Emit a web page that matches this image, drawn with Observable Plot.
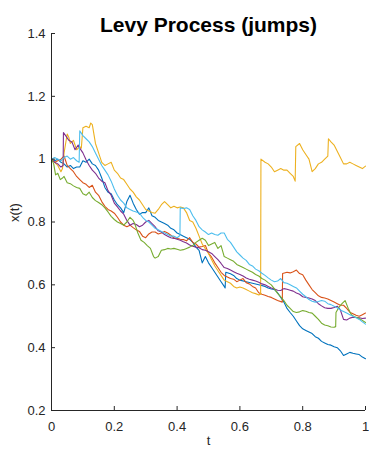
<!DOCTYPE html>
<html><head><meta charset="utf-8">
<script src="https://cdn.jsdelivr.net/npm/d3@7"></script>
<script src="https://cdn.jsdelivr.net/npm/@observablehq/plot@0.6"></script>
<style>body{margin:0;background:#fff} svg{display:block}</style>
</head><body><div id="chart"></div>
<script>
const titleText = "Levy Process (jumps)";
const xLabel = "t";
const yLabel = "x(t)";
const xTicks = [0, 0.2, 0.4, 0.6, 0.8, 1];
const xTickLabels = ["0", "0.2", "0.4", "0.6", "0.8", "1"];
const yTicks = [0.2, 0.4, 0.6, 0.8, 1, 1.2, 1.4];
const yTickLabels = ["0.2", "0.4", "0.6", "0.8", "1", "1.2", "1.4"];
const seriesColors = ["#0072BD", "#D95319", "#EDB120", "#7E2F8E", "#77AC30", "#4DBEEE"];

const blue = [[0,1.0],[0.01,0.995],[0.02,1.0],[0.03,0.99],[0.04,0.985],[0.05,0.975],[0.06,0.98],[0.07,0.97],[0.08,0.975],[0.09,0.975],[0.1,0.995],[0.11,0.99],[0.12,1.0],[0.13,0.985],[0.14,0.98],[0.15,0.965],[0.16,0.94],[0.17,0.91],[0.18,0.895],[0.19,0.89],[0.2,0.87],[0.21,0.855],[0.22,0.845],[0.23,0.83],[0.24,0.865],[0.25,0.885],[0.26,0.86],[0.27,0.84],[0.28,0.825],[0.29,0.83],[0.3,0.83],[0.31,0.845],[0.32,0.82],[0.33,0.815],[0.34,0.805],[0.35,0.8],[0.36,0.795],[0.37,0.79],[0.38,0.78],[0.39,0.775],[0.4,0.765],[0.41,0.76],[0.42,0.755],[0.43,0.75],[0.44,0.745],[0.45,0.735],[0.46,0.72],[0.47,0.71],[0.48,0.67],[0.49,0.69],[0.5,0.67],[0.51,0.655],[0.52,0.64],[0.53,0.625],[0.54,0.61],[0.55,0.595],[0.553,0.59],[0.555,0.64],[0.57,0.635],[0.58,0.63],[0.59,0.62],[0.6,0.615],[0.62,0.61],[0.64,0.605],[0.66,0.6],[0.68,0.595],[0.69,0.59],[0.7,0.587],[0.71,0.585],[0.72,0.575],[0.73,0.56],[0.74,0.545],[0.75,0.525],[0.76,0.512],[0.77,0.5],[0.78,0.485],[0.79,0.47],[0.8,0.46],[0.81,0.455],[0.82,0.45],[0.83,0.445],[0.84,0.435],[0.85,0.43],[0.86,0.42],[0.87,0.415],[0.88,0.41],[0.89,0.408],[0.9,0.403],[0.91,0.4],[0.92,0.39],[0.93,0.375],[0.94,0.38],[0.95,0.385],[0.96,0.382],[0.97,0.38],[0.98,0.378],[0.99,0.37],[1.0,0.365]];

const orange = [[0,1.0],[0.01,0.99],[0.02,0.995],[0.03,1.0],[0.04,1.01],[0.045,0.995],[0.05,0.98],[0.06,0.97],[0.07,0.96],[0.08,0.945],[0.09,0.935],[0.1,0.925],[0.11,0.92],[0.12,0.91],[0.13,0.917],[0.14,0.895],[0.15,0.885],[0.16,0.865],[0.17,0.85],[0.18,0.84],[0.19,0.835],[0.2,0.828],[0.21,0.815],[0.22,0.8],[0.23,0.79],[0.24,0.785],[0.25,0.79],[0.26,0.782],[0.27,0.775],[0.28,0.77],[0.29,0.755],[0.3,0.75],[0.31,0.762],[0.32,0.768],[0.33,0.768],[0.34,0.762],[0.35,0.765],[0.36,0.77],[0.37,0.765],[0.38,0.758],[0.39,0.75],[0.4,0.748],[0.41,0.745],[0.42,0.744],[0.43,0.74],[0.44,0.75],[0.45,0.735],[0.46,0.73],[0.47,0.72],[0.48,0.722],[0.49,0.725],[0.5,0.7],[0.51,0.688],[0.52,0.67],[0.53,0.655],[0.54,0.64],[0.55,0.63],[0.56,0.625],[0.57,0.62],[0.58,0.618],[0.59,0.61],[0.6,0.615],[0.61,0.62],[0.62,0.607],[0.63,0.603],[0.64,0.595],[0.65,0.59],[0.66,0.575],[0.67,0.57],[0.68,0.567],[0.69,0.563],[0.7,0.56],[0.71,0.555],[0.72,0.55],[0.735,0.545],[0.736,0.636],[0.75,0.64],[0.76,0.638],[0.77,0.642],[0.78,0.647],[0.79,0.636],[0.8,0.632],[0.81,0.615],[0.82,0.6],[0.83,0.585],[0.84,0.575],[0.85,0.565],[0.86,0.56],[0.87,0.558],[0.88,0.555],[0.89,0.55],[0.9,0.545],[0.91,0.54],[0.92,0.535],[0.93,0.535],[0.94,0.525],[0.95,0.513],[0.96,0.508],[0.97,0.503],[0.98,0.5],[0.99,0.505],[1.0,0.51]];

const yellow = [[0,1.0],[0.01,0.99],[0.02,0.98],[0.03,0.96],[0.035,0.97],[0.04,1.02],[0.05,1.08],[0.055,1.07],[0.06,1.05],[0.07,1.06],[0.08,1.03],[0.09,1.04],[0.095,1.035],[0.1,1.1],[0.11,1.105],[0.12,1.1],[0.125,1.115],[0.13,1.11],[0.14,1.05],[0.15,1.02],[0.16,0.99],[0.17,0.98],[0.18,0.985],[0.19,0.99],[0.2,0.965],[0.21,0.955],[0.22,0.94],[0.23,0.935],[0.24,0.92],[0.25,0.905],[0.26,0.895],[0.27,0.88],[0.28,0.87],[0.29,0.855],[0.3,0.84],[0.31,0.835],[0.32,0.83],[0.33,0.828],[0.34,0.84],[0.35,0.855],[0.36,0.865],[0.37,0.855],[0.38,0.845],[0.39,0.85],[0.4,0.845],[0.41,0.848],[0.42,0.845],[0.43,0.83],[0.44,0.805],[0.45,0.8],[0.46,0.78],[0.47,0.755],[0.48,0.73],[0.49,0.715],[0.5,0.7],[0.51,0.68],[0.52,0.66],[0.53,0.645],[0.54,0.63],[0.55,0.615],[0.56,0.61],[0.57,0.605],[0.58,0.595],[0.59,0.59],[0.6,0.593],[0.61,0.59],[0.62,0.585],[0.63,0.58],[0.64,0.575],[0.65,0.572],[0.66,0.568],[0.666,0.57],[0.667,1.0],[0.68,0.99],[0.69,0.985],[0.7,0.975],[0.71,0.96],[0.72,0.965],[0.73,0.97],[0.74,0.965],[0.75,0.965],[0.76,0.955],[0.77,0.945],[0.776,0.93],[0.778,1.04],[0.79,1.05],[0.8,1.03],[0.81,1.015],[0.82,1.0],[0.83,0.96],[0.84,0.97],[0.85,0.985],[0.86,0.99],[0.87,1.0],[0.88,1.01],[0.882,1.065],[0.89,1.055],[0.9,1.045],[0.91,1.025],[0.92,1.005],[0.93,0.985],[0.94,0.985],[0.95,0.99],[0.96,0.985],[0.97,0.98],[0.98,0.975],[0.99,0.97],[1.0,0.978]];

const purple = [[0,1.0],[0.01,0.99],[0.02,0.985],[0.03,0.975],[0.037,0.98],[0.038,1.085],[0.045,1.075],[0.055,1.06],[0.065,1.055],[0.075,1.03],[0.085,1.045],[0.09,1.035],[0.1,1.02],[0.11,0.998],[0.12,0.98],[0.13,0.965],[0.14,0.955],[0.15,0.94],[0.16,0.93],[0.17,0.925],[0.18,0.9],[0.19,0.885],[0.2,0.86],[0.21,0.848],[0.22,0.835],[0.23,0.825],[0.24,0.805],[0.25,0.79],[0.26,0.795],[0.27,0.792],[0.28,0.785],[0.29,0.79],[0.3,0.8],[0.31,0.805],[0.32,0.795],[0.33,0.785],[0.34,0.772],[0.35,0.768],[0.36,0.76],[0.37,0.755],[0.38,0.75],[0.39,0.748],[0.4,0.745],[0.41,0.742],[0.42,0.737],[0.43,0.733],[0.44,0.727],[0.45,0.723],[0.46,0.72],[0.47,0.718],[0.48,0.712],[0.49,0.71],[0.5,0.705],[0.51,0.7],[0.52,0.69],[0.53,0.68],[0.54,0.668],[0.55,0.655],[0.56,0.652],[0.57,0.647],[0.58,0.642],[0.59,0.637],[0.6,0.633],[0.61,0.628],[0.62,0.622],[0.63,0.618],[0.64,0.615],[0.65,0.612],[0.66,0.608],[0.67,0.603],[0.68,0.6],[0.69,0.595],[0.7,0.59],[0.71,0.587],[0.72,0.583],[0.73,0.582],[0.74,0.588],[0.75,0.586],[0.76,0.583],[0.77,0.58],[0.78,0.574],[0.79,0.57],[0.8,0.562],[0.81,0.56],[0.82,0.558],[0.83,0.555],[0.84,0.55],[0.85,0.54],[0.86,0.533],[0.87,0.527],[0.88,0.525],[0.89,0.525],[0.9,0.528],[0.91,0.532],[0.92,0.52],[0.93,0.49],[0.94,0.488],[0.95,0.494],[0.96,0.497],[0.97,0.496],[0.98,0.495],[0.99,0.493],[1.0,0.494]];

const green = [[0,1.0],[0.007,0.985],[0.013,0.95],[0.02,0.955],[0.028,0.935],[0.035,0.94],[0.04,0.945],[0.05,0.925],[0.06,0.922],[0.07,0.915],[0.08,0.91],[0.09,0.907],[0.1,0.89],[0.11,0.885],[0.12,0.895],[0.13,0.878],[0.14,0.868],[0.15,0.862],[0.16,0.855],[0.17,0.845],[0.18,0.832],[0.19,0.818],[0.2,0.808],[0.21,0.8],[0.22,0.795],[0.23,0.79],[0.24,0.8],[0.25,0.815],[0.26,0.805],[0.265,0.795],[0.275,0.765],[0.285,0.742],[0.295,0.735],[0.305,0.725],[0.315,0.716],[0.325,0.69],[0.33,0.685],[0.34,0.69],[0.35,0.71],[0.36,0.712],[0.37,0.716],[0.38,0.714],[0.39,0.716],[0.4,0.713],[0.41,0.71],[0.42,0.712],[0.43,0.716],[0.44,0.72],[0.45,0.725],[0.46,0.735],[0.47,0.742],[0.48,0.748],[0.49,0.742],[0.5,0.725],[0.51,0.73],[0.52,0.735],[0.53,0.716],[0.54,0.725],[0.55,0.69],[0.56,0.685],[0.57,0.68],[0.58,0.675],[0.59,0.665],[0.6,0.66],[0.61,0.655],[0.62,0.65],[0.63,0.645],[0.64,0.64],[0.65,0.633],[0.66,0.628],[0.67,0.62],[0.68,0.615],[0.69,0.607],[0.7,0.6],[0.71,0.587],[0.72,0.573],[0.73,0.562],[0.74,0.55],[0.75,0.535],[0.76,0.525],[0.77,0.515],[0.78,0.512],[0.79,0.514],[0.8,0.518],[0.81,0.516],[0.82,0.512],[0.83,0.51],[0.84,0.5],[0.85,0.49],[0.86,0.478],[0.87,0.472],[0.88,0.47],[0.89,0.466],[0.9,0.465],[0.905,0.467],[0.906,0.512],[0.915,0.528],[0.925,0.54],[0.935,0.55],[0.945,0.525],[0.955,0.505],[0.965,0.498],[0.975,0.495],[0.985,0.49],[1.0,0.48]];

const cyan = [[0,1.0],[0.01,1.005],[0.02,1.0],[0.03,0.995],[0.04,1.005],[0.05,1.01],[0.06,1.0],[0.07,1.005],[0.08,0.995],[0.088,0.99],[0.09,1.09],[0.1,1.075],[0.11,1.065],[0.12,1.055],[0.13,1.04],[0.14,1.02],[0.15,1.0],[0.16,0.98],[0.17,0.965],[0.18,0.95],[0.19,0.93],[0.2,0.905],[0.21,0.885],[0.22,0.87],[0.23,0.86],[0.24,0.845],[0.25,0.84],[0.26,0.835],[0.27,0.832],[0.28,0.828],[0.29,0.815],[0.3,0.805],[0.31,0.8],[0.32,0.79],[0.33,0.78],[0.34,0.775],[0.35,0.77],[0.36,0.765],[0.37,0.76],[0.38,0.755],[0.39,0.755],[0.4,0.75],[0.409,0.757],[0.41,0.845],[0.42,0.843],[0.43,0.845],[0.44,0.84],[0.45,0.82],[0.46,0.805],[0.47,0.785],[0.48,0.775],[0.49,0.768],[0.5,0.76],[0.51,0.765],[0.52,0.76],[0.53,0.758],[0.54,0.765],[0.55,0.765],[0.56,0.745],[0.57,0.735],[0.58,0.72],[0.59,0.705],[0.6,0.695],[0.61,0.685],[0.62,0.678],[0.63,0.665],[0.64,0.66],[0.65,0.65],[0.66,0.645],[0.67,0.637],[0.68,0.63],[0.69,0.622],[0.7,0.615],[0.71,0.61],[0.72,0.612],[0.73,0.62],[0.74,0.607],[0.75,0.605],[0.76,0.6],[0.77,0.595],[0.78,0.59],[0.79,0.58],[0.8,0.57],[0.81,0.562],[0.82,0.553],[0.83,0.548],[0.84,0.545],[0.85,0.547],[0.86,0.55],[0.87,0.548],[0.88,0.54],[0.89,0.537],[0.9,0.532],[0.91,0.527],[0.92,0.52],[0.93,0.515],[0.94,0.51],[0.95,0.505],[0.96,0.5],[0.97,0.495],[0.98,0.49],[0.99,0.482],[1.0,0.475]];

const allSeries = [blue, orange, yellow, purple, green, cyan];

const W = 369, H = 449;
const mL = 51, mR = 4, mT = 33, mB = 39;
const plotW = W - mL - mR, plotH = H - mT - mB;
const axisColor = "#262626";
const tickLen = 4;

const lineMarks = allSeries.map((s, i) =>
  Plot.line(s.map(([t, v]) => ({t, v})), {x: "t", y: "v", stroke: seriesColors[i], strokeWidth: 1.1})
);

const chart = Plot.plot({
  width: W, height: H,
  marginLeft: mL, marginRight: mR, marginTop: mT, marginBottom: mB,
  style: {fontFamily: "'Liberation Sans', Arial, Helvetica, sans-serif", fontSize: "13px", color: axisColor, background: "#fff"},
  x: {domain: [xTicks[0], xTicks[xTicks.length - 1]]},
  y: {domain: [yTicks[0], yTicks[yTicks.length - 1]]},
  marks: [
    ...lineMarks,
    Plot.gridY(yTicks, {stroke: axisColor, strokeOpacity: 1, strokeWidth: 1, insetRight: plotW - tickLen}),
    Plot.gridX(xTicks, {stroke: axisColor, strokeOpacity: 1, strokeWidth: 1, insetTop: plotH - tickLen}),
    Plot.ruleX([xTicks[0]], {stroke: axisColor, strokeWidth: 1}),
    Plot.ruleY([yTicks[0]], {stroke: axisColor, strokeWidth: 1}),
    Plot.axisX(xTicks, {tickSize: 0, tickPadding: 11, label: null, fill: axisColor,
      tickFormat: d => xTickLabels[xTicks.indexOf(d)]}),
    Plot.axisY(yTicks, {tickSize: 0, tickPadding: 6, label: null, fill: axisColor,
      tickFormat: d => yTickLabels[yTicks.indexOf(d)]}),
    Plot.text([yLabel], {frameAnchor: "left", dx: -37, rotate: -90, fill: axisColor, fontSize: 13}),
    Plot.text([xLabel], {frameAnchor: "bottom", dy: 34, fill: axisColor, fontSize: 13}),
    Plot.text([titleText], {frameAnchor: "top", dy: -16, fill: "#000", fontSize: 21, fontWeight: "bold"})
  ]
});
document.getElementById("chart").appendChild(chart);
</script>
</body></html>
